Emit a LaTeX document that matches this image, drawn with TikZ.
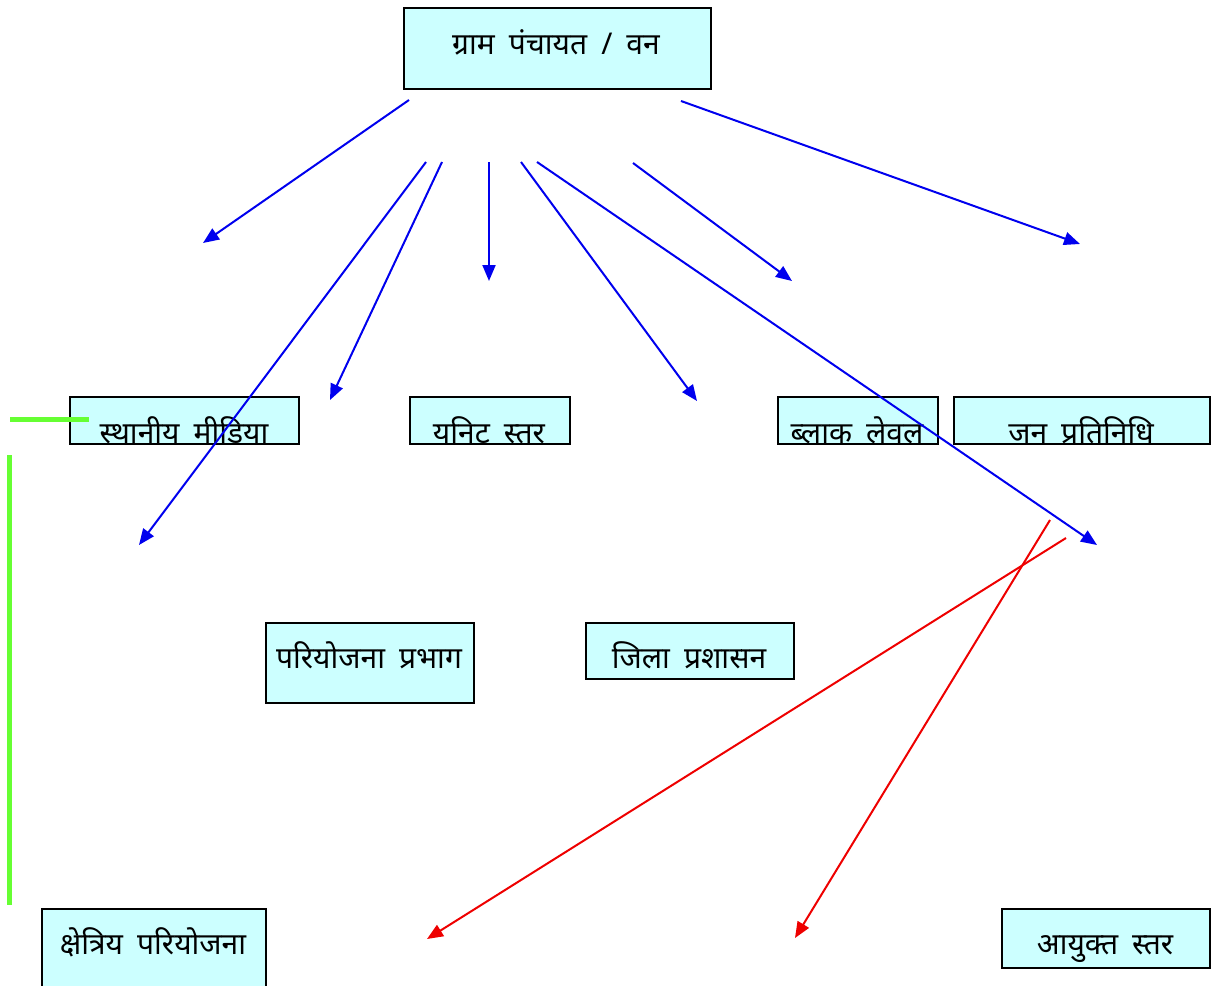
\documentclass[tikz,border=0pt]{standalone}
\usepackage{fontspec}
\newfontfamily\deva[Script=Devanagari,WordSpace=1.8]{Noto Sans}
\usetikzlibrary{arrows.meta}
\definecolor{boxfill}{HTML}{CCFFFF}
\definecolor{arrblue}{HTML}{0000EE}
\definecolor{arrred}{HTML}{EE0000}
\definecolor{lgreen}{HTML}{66FF33}
\tikzset{
  box/.style={draw=black, fill=boxfill, line width=1.8pt, inner sep=0pt, anchor=north west},
  txt/.style={font=\deva\fontsize{30}{34}\selectfont, anchor=base, inner sep=0pt, text=black},
  barrow/.style={draw=arrblue, line width=2pt, -{Triangle[length=16pt,width=13pt]}},
  rarrow/.style={draw=arrred, line width=2pt, -{Triangle[length=16pt,width=13pt]}},
  gline/.style={draw=lgreen, line width=5pt}
}
\begin{document}
\begin{tikzpicture}[x=1pt,y=-1pt]
\useasboundingbox (0,0) rectangle (1217,985);
% boxes
\node[box, minimum width=307pt, minimum height=81pt] (b1) at (403,7) {};
\node[txt] (t1) at (556,54) {ग्राम पंचायत / वन};
\node[box, minimum width=229pt, minimum height=47pt] (b2) at (69,396) {};
\node[txt] (t2) at (184,443) {स्थानीय मीडिया};
\node[box, minimum width=160pt, minimum height=47pt] (b3) at (409,396) {};
\node[txt] (t3) at (489,443) {यनिट स्तर};
\node[box, minimum width=160pt, minimum height=47pt] (b4) at (777,396) {};
\node[txt] (t4) at (857,443) {ब्लाक लेवल};
\node[box, minimum width=256pt, minimum height=47pt] (b5) at (953,396) {};
\node[txt] (t5) at (1081,443) {जन प्रतिनिधि};
\node[box, minimum width=208pt, minimum height=80pt] (b6) at (265,622) {};
\node[txt] (t6) at (369,668) {परियोजना प्रभाग};
\node[box, minimum width=208pt, minimum height=56pt] (b7) at (585,622) {};
\node[txt] (t7) at (689,668) {जिला प्रशासन};
\node[box, minimum width=224pt, minimum height=85pt] (b8) at (41,908) {};
\node[txt] (t8) at (153,954) {क्षेत्रिय परियोजना};
\node[box, minimum width=208pt, minimum height=59pt] (b9) at (1001,908) {};
\node[txt] (t9) at (1105,954) {आयुक्त स्तर};
% arrow end points
\coordinate (s1) at (409,100); \coordinate (e1) at (203,243);
\coordinate (s2) at (426,162); \coordinate (e2) at (139,545);
\coordinate (s3) at (442,162); \coordinate (e3) at (330,400);
\coordinate (s4) at (489,162); \coordinate (e4) at (489,281);
\coordinate (s5) at (521,162); \coordinate (e5) at (697,401);
\coordinate (s6) at (537,162); \coordinate (e6) at (1097,545);
\coordinate (s7) at (633,163); \coordinate (e7) at (792,281);
\coordinate (s8) at (681,101); \coordinate (e8) at (1080,244);
\coordinate (s9) at (1066,538); \coordinate (e9) at (427,939);
\coordinate (s10) at (1050,520); \coordinate (e10) at (795,938);
\coordinate (g1) at (10,419); \coordinate (g2) at (89,419);
\coordinate (g3) at (9,455); \coordinate (g4) at (9,905);
% arrows
\foreach \i in {1,...,8} {\draw[barrow] (s\i) -- (e\i);}
\draw[rarrow] (s9) -- (e9);
\draw[rarrow] (s10) -- (e10);
\draw[gline] (g1) -- (g2);
\draw[gline] (g3) -- (g4);
\end{tikzpicture}
\end{document}
